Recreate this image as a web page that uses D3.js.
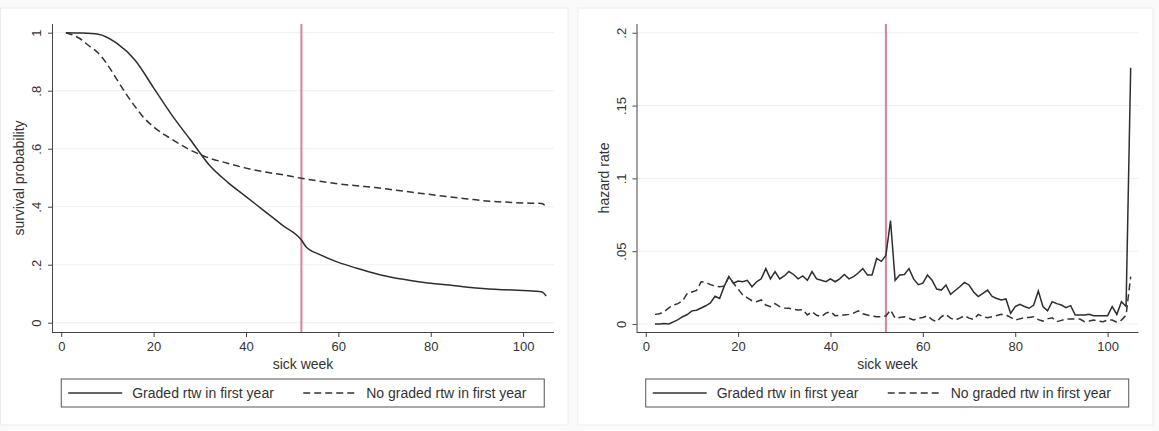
<!DOCTYPE html>
<html>
<head>
<meta charset="utf-8">
<script src="https://cdn.jsdelivr.net/npm/d3@7"></script>
<style>
  body { margin: 0; background: #fafafa; }
  svg { display: block; font-family: "Liberation Sans", Arial, sans-serif; }
</style>
</head>
<body>
<svg id="chart" width="1159" height="431"></svg>
<script>
const survWeeks = [1, 4, 8, 12, 16, 20, 24, 28, 32, 36, 40, 44, 48, 52, 53, 56, 60, 64, 68, 72, 76, 80, 84, 88, 92, 96, 100, 104, 105];
const survGraded = [1.0, 0.999, 0.995, 0.964, 0.905, 0.81, 0.715, 0.63, 0.545, 0.485, 0.435, 0.385, 0.335, 0.285, 0.262, 0.235, 0.208, 0.188, 0.17, 0.155, 0.145, 0.136, 0.13, 0.122, 0.117, 0.114, 0.111, 0.107, 0.092];
const survNoGradedWeeks = [1, 4, 6, 8, 10, 12, 14, 16, 18, 20, 24, 28, 32, 36, 40, 44, 48, 52, 56, 60, 64, 68, 72, 76, 80, 84, 88, 92, 96, 100, 104, 105];
const survNoGraded = [1.0, 0.98, 0.955, 0.93, 0.89, 0.84, 0.79, 0.745, 0.705, 0.675, 0.632, 0.595, 0.568, 0.55, 0.533, 0.52, 0.51, 0.498, 0.488, 0.479, 0.472, 0.466, 0.458, 0.45, 0.442, 0.434, 0.427, 0.42, 0.416, 0.413, 0.411, 0.40];

// hazard rates (right panel), weeks 2..105
const hazWeeks = d3.range(2, 106);
const hazGraded = [
  0.0, 0.0, 0.0003, 0.0, 0.0015, 0.003, 0.005, 0.0065, 0.009, 0.0095,
  0.011, 0.0125, 0.0145, 0.019, 0.0175, 0.026, 0.0325, 0.028, 0.0295, 0.029,
  0.030, 0.0256, 0.029, 0.031, 0.038, 0.031, 0.036, 0.031, 0.033, 0.036,
  0.034, 0.031, 0.033, 0.030, 0.036, 0.031, 0.030, 0.029, 0.031, 0.029,
  0.031, 0.034, 0.031, 0.0325, 0.035, 0.038, 0.0336, 0.0336, 0.045, 0.043,
  0.047, 0.071, 0.030, 0.0336, 0.034, 0.038, 0.031, 0.027, 0.028, 0.0336,
  0.030, 0.024, 0.0233, 0.0268, 0.0204, 0.023, 0.0256, 0.0286, 0.0268, 0.022,
  0.0188, 0.021, 0.0233, 0.019, 0.0175, 0.0165, 0.0172, 0.0073, 0.012, 0.0135,
  0.012, 0.0108, 0.013, 0.0227, 0.012, 0.009, 0.0153, 0.014, 0.013, 0.0112,
  0.0126, 0.0062, 0.0062, 0.0062, 0.0066, 0.0057, 0.0057, 0.0057, 0.0057, 0.012,
  0.0066, 0.0153, 0.012, 0.176
];
const hazNoGraded = [
  0.0066, 0.007, 0.0085, 0.011, 0.013, 0.014, 0.016, 0.021, 0.022, 0.023,
  0.029, 0.0286, 0.027, 0.026, 0.0256, 0.026, 0.0325, 0.028, 0.024, 0.020,
  0.018, 0.016, 0.0153, 0.0165, 0.013, 0.0119, 0.014, 0.012, 0.011, 0.0108,
  0.010, 0.0096, 0.0098, 0.0062, 0.0084, 0.006, 0.005, 0.0075, 0.0084, 0.0057,
  0.006, 0.0062, 0.0066, 0.0075, 0.009, 0.007, 0.0062, 0.0055, 0.005, 0.005,
  0.0055, 0.0096, 0.0039, 0.0045, 0.005, 0.004, 0.0027, 0.004, 0.0045, 0.0057,
  0.003, 0.0016, 0.005, 0.0066, 0.004, 0.0027, 0.004, 0.0057, 0.004, 0.0032,
  0.0066, 0.005, 0.0043, 0.005, 0.0058, 0.0066, 0.0062, 0.0045, 0.0027, 0.0035,
  0.0043, 0.0045, 0.005, 0.003, 0.002, 0.0035, 0.0043, 0.0016, 0.0025, 0.0034,
  0.0034, 0.0034, 0.0034, 0.0016, 0.002, 0.0027, 0.002, 0.0016, 0.0027, 0.0027,
  0.0012, 0.0027, 0.006, 0.0325
];

const xTicks = [0, 20, 40, 60, 80, 100];
const survTicks = [0, 0.2, 0.4, 0.6, 0.8, 1];
const hazTicks = [0, 0.05, 0.1, 0.15, 0.2];
const legendLabels = ["Graded rtw in first year", "No graded rtw in first year"];
const cutoffWeek = 52;

const svg = d3.select("#chart");
const fmt = v => v === 0 ? "0" : v === 1 ? "1" : String(v).replace(/^0/, "");

function drawPanel(p) {
  const g = svg.append("g");
  // panel frame
  g.append("rect")
    .attr("x", p.box[0]).attr("y", 8)
    .attr("width", p.box[1] - p.box[0]).attr("height", 417)
    .attr("fill", "#fff").attr("stroke", "#ececec");

  const x = d3.scaleLinear().domain([-2, 106.8]).range([p.left, p.left + 502.5]);
  const y = d3.scaleLinear().domain(p.yDomain).range([332, 24]);

  // gridlines
  g.append("g").selectAll("line").data(p.yTicks).join("line")
    .attr("x1", p.left).attr("x2", p.left + 502)
    .attr("y1", d => y(d)).attr("y2", d => y(d))
    .attr("stroke", "#eef1f1").attr("stroke-width", 1);

  // axes
  const xAxis = g.append("g").attr("transform", "translate(0,332)")
    .call(d3.axisBottom(x).tickValues(xTicks).tickSize(5).tickPadding(5));
  const yAxis = g.append("g").attr("transform", `translate(${p.left},0)`)
    .call(d3.axisLeft(y).tickValues(p.yTicks).tickSize(4).tickFormat(fmt));
  [xAxis, yAxis].forEach(a => {
    a.select(".domain").attr("stroke", "#444");
    a.selectAll(".tick line").attr("stroke", "#444");
    a.selectAll("text").attr("fill", "#333").style("font-size", "13px")
      .style("font-family", "'Liberation Sans', Arial, sans-serif");
  });
  yAxis.selectAll(".tick text")
    .attr("x", null).attr("dy", null).attr("text-anchor", "middle")
    .attr("transform", "translate(-11,0) rotate(-90)");
  xAxis.select(".domain").attr("d", `M${p.left},0.5H${p.left + 502}`);
  yAxis.select(".domain").attr("d", `M0.5,24V332`);

  // axis titles
  g.append("text").attr("x", p.left + 251).attr("y", 369)
    .attr("text-anchor", "middle").attr("fill", "#333").style("font-size", "14px")
    .text("sick week");
  g.append("text")
    .attr("transform", `translate(${p.left - 28},178) rotate(-90)`)
    .attr("text-anchor", "middle").attr("fill", "#333").style("font-size", "14px")
    .text(p.yTitle);

  // cutoff line at week 52
  g.append("line")
    .attr("x1", x(cutoffWeek)).attr("x2", x(cutoffWeek))
    .attr("y1", 24).attr("y2", 332)
    .attr("stroke", "#d8809c").attr("stroke-width", 2);

  const line = d3.line().x(d => x(d[0])).y(d => y(d[1])).curve(p.curve);
  g.append("path").datum(p.solid)
    .attr("d", line).attr("fill", "none")
    .attr("stroke", "#2e2e2e").attr("stroke-width", 1.5);
  g.append("path").datum(p.dashed)
    .attr("d", line).attr("fill", "none")
    .attr("stroke", "#333").attr("stroke-width", 1.5)
    .attr("stroke-dasharray", "7,4");

  // legend
  const lx = x(0), lw = p.legendWidth;
  const leg = g.append("g");
  leg.append("rect").attr("x", lx).attr("y", 379).attr("width", lw).attr("height", 28)
    .attr("fill", "#fff").attr("stroke", "#555");
  leg.append("line").attr("x1", lx + 7).attr("x2", lx + 61).attr("y1", 393).attr("y2", 393)
    .attr("stroke", "#333").attr("stroke-width", 1.3);
  leg.append("text").attr("x", lx + 71).attr("y", 398)
    .attr("fill", "#333").style("font-size", "14px").text(legendLabels[0]);
  leg.append("line").attr("x1", lx + 242).attr("x2", lx + 297).attr("y1", 393).attr("y2", 393)
    .attr("stroke", "#333").attr("stroke-width", 1.3).attr("stroke-dasharray", "7,4");
  leg.append("text").attr("x", lx + 305).attr("y", 398)
    .attr("fill", "#333").style("font-size", "14px").text(legendLabels[1]);
}

drawPanel({
  box: [0.5, 568],
  left: 52,
  yDomain: [-0.032, 1.03],
  yTicks: survTicks,
  yTitle: "survival probability",
  curve: d3.curveMonotoneX,
  legendWidth: 483,
  solid: survWeeks.map((w, i) => [w, survGraded[i]]),
  dashed: survNoGradedWeeks.map((w, i) => [w, survNoGraded[i]])
});

drawPanel({
  box: [578, 1153],
  left: 636.5,
  yDomain: [-0.0055, 0.206],
  yTicks: hazTicks,
  yTitle: "hazard rate",
  curve: d3.curveLinear,
  legendWidth: 483,
  solid: hazWeeks.map((w, i) => [w, hazGraded[i]]),
  dashed: hazWeeks.map((w, i) => [w, hazNoGraded[i]])
});
</script>
</body>
</html>
